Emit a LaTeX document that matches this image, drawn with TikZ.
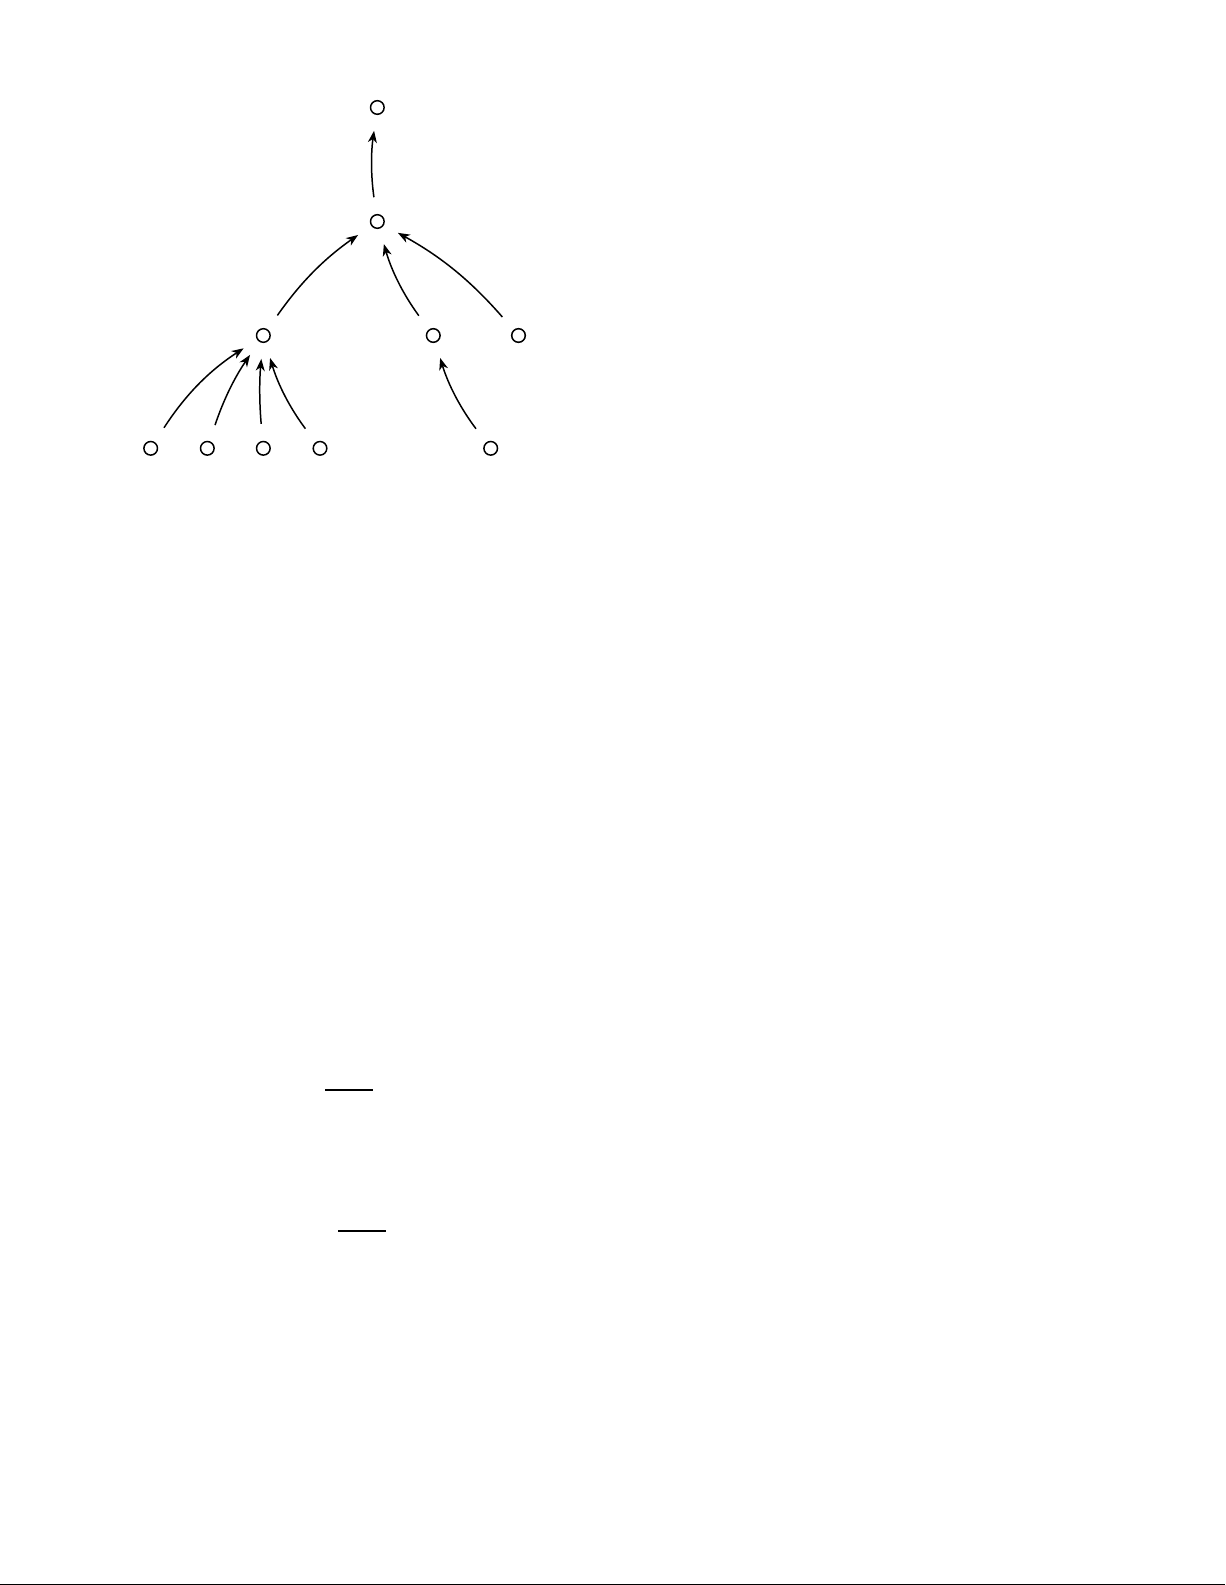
\documentclass[tikz,border=0pt]{standalone}
\usetikzlibrary{arrows.meta}
\begin{document}
\begin{tikzpicture}[
  vtx/.style={circle,draw,line width=0.75pt,minimum size=0.24cm,inner sep=0pt},
  arr/.style={line width=0.75pt,-{Stealth[length=6pt,width=4.5pt,inset=1.8pt]},shorten <=8.5pt,shorten >=8pt},
  bar/.style={line width=1pt}
]
\useasboundingbox (0,0) rectangle (21.609,-27.959);
% nodes
\node[vtx] (r)  at (6.656,-1.896) {};
\node[vtx] (m)  at (6.656,-3.907) {};
\node[vtx] (a)  at (4.645,-5.918) {};
\node[vtx] (b)  at (7.643,-5.918) {};
\node[vtx] (c)  at (9.146,-5.918) {};
\node[vtx] (a1) at (2.658,-7.908) {};
\node[vtx] (a2) at (3.657,-7.908) {};
\node[vtx] (a3) at (4.645,-7.908) {};
\node[vtx] (a4) at (5.645,-7.908) {};
\node[vtx] (b1) at (8.656,-7.908) {};
% connectors
\draw[arr] (m) to[bend left=8] (r);
\draw[arr] (a) to[bend left=10] (m);
\draw[arr] (b) to[bend left=10] (m);
\draw[arr] (c) to[bend right=10] (m);
\draw[arr] (a1) to[bend left=12] (a);
\draw[arr] (a2) to[bend left=8] (a);
\draw[arr] (a3) to[bend left=5] (a);
\draw[arr] (a4) to[bend left=10] (a);
\draw[arr] (b1) to[bend left=10] (b);
% bars
\coordinate (p1) at (5.733,-19.227);
\coordinate (p2) at (6.585,-19.227);
\coordinate (q1) at (5.968,-21.715);
\coordinate (q2) at (6.804,-21.715);
\draw[bar] (p1) -- (p2);
\draw[bar] (q1) -- (q2);
% bottom edge line
\coordinate (e1) at (0,-27.945);
\coordinate (e2) at (21.609,-27.945);
\draw[line width=0.5pt] (e1) -- (e2);
\end{tikzpicture}
\end{document}
